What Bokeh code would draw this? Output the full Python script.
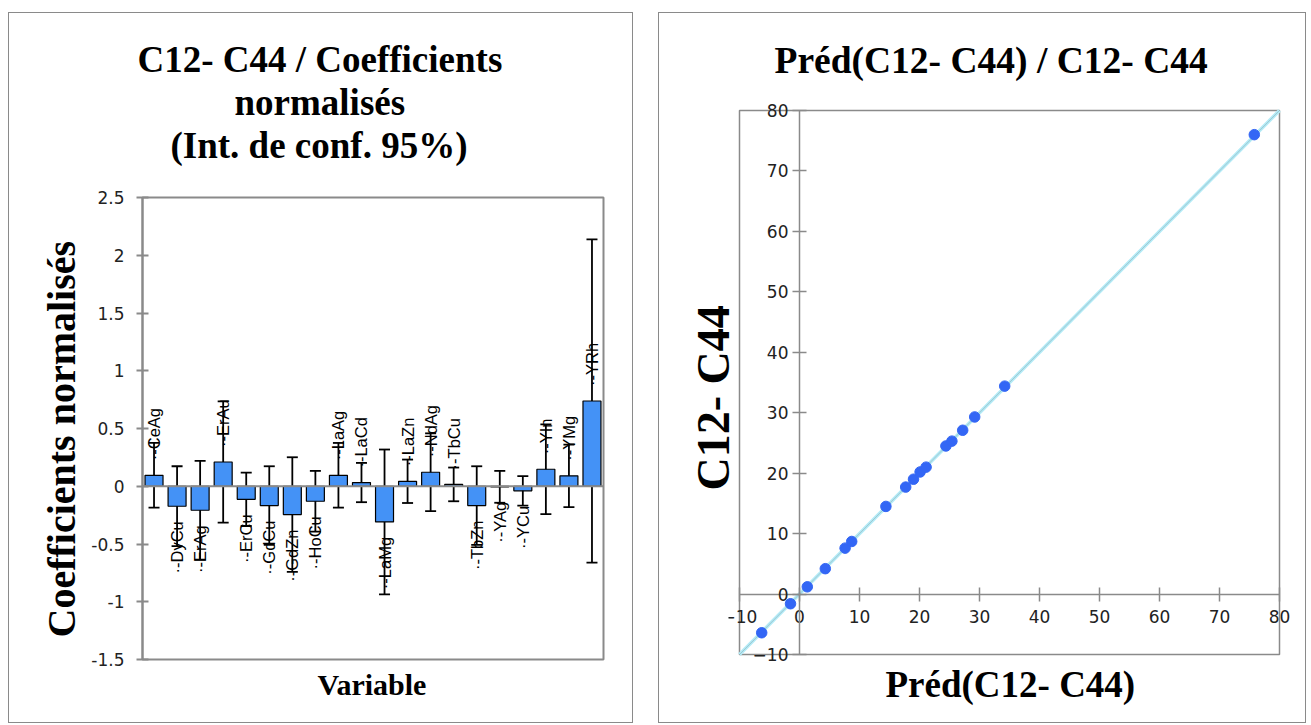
import math
from bokeh.plotting import figure
from bokeh.models import (Range1d, FactorRange, ColumnDataSource, Whisker, TeeHead,
                          Span, Title, FixedTicker, Spacer)
from bokeh.layouts import row, column
from bokeh.embed import file_html
from bokeh.resources import INLINE
from bokeh.core.properties import value

# ---------------- data ----------------
variables = ["CeAg", "DyCu", "ErAg", "ErAu", "ErCu", "GdCu", "GdZn", "HoCu", "LaAg", "LaCd",
             "LaMg", "LaZn", "NdAg", "TbCu", "TbZn", "YAg", "YCu", "YIn", "YMg", "YRh"]
coefficients = [0.095, -0.173, -0.208, 0.210, -0.113, -0.167, -0.245, -0.130, 0.095, 0.032,
                -0.309, 0.043, 0.121, 0.016, -0.167, -0.005, -0.040, 0.147, 0.090, 0.738]
ci_half = [0.280, 0.346, 0.427, 0.525, 0.231, 0.340, 0.496, 0.263, 0.280, 0.170,
           0.627, 0.188, 0.337, 0.146, 0.340, 0.138, 0.127, 0.389, 0.270, 1.400]
left_ticks = [-1.5, -1, -0.5, 0, 0.5, 1, 1.5, 2, 2.5]
left_tick_labels = ["-1.5", "-1", "-0.5", "0", "0.5", "1", "1.5", "2", "2.5"]

pred = [-6.3, -1.5, 1.3, 4.3, 7.6, 8.7, 14.4, 17.7, 19.0, 20.1, 21.1, 24.4, 25.4, 27.2, 29.2, 34.2, 75.8]
obs = [-6.4, -1.6, 1.2, 4.2, 7.6, 8.7, 14.5, 17.7, 19.0, 20.2, 21.0, 24.5, 25.3, 27.1, 29.3, 34.4, 76.0]
right_ticks = [-10, 0, 10, 20, 30, 40, 50, 60, 70, 80]
axis_min, axis_max = -10, 80

GRAY = "#8a8a8a"
SERIF = "Liberation Serif"
TICKFONT = "DejaVu Sans"
BORDER = {"border": "1px solid #8a8a8a"}


def no_frame_align(p):
    if "frame_align" in p.properties():
        p.frame_align = False


# ---------------- left chart ----------------
labels = ["\u00b7-" + v for v in variables]
lower = [c - h for c, h in zip(coefficients, ci_half)]
upper = [c + h for c, h in zip(coefficients, ci_half)]
src = ColumnDataSource(dict(x=variables, y=coefficients, lo=lower, hi=upper, lab=labels))
pos = ColumnDataSource(dict(x=[v for v, c in zip(variables, coefficients) if c >= 0],
                            y=[c for c in coefficients if c >= 0],
                            lab=[l for l, c in zip(labels, coefficients) if c >= 0]))
neg = ColumnDataSource(dict(x=[v for v, c in zip(variables, coefficients) if c < 0],
                            y=[c for c in coefficients if c < 0],
                            lab=[l for l, c in zip(labels, coefficients) if c < 0]))

p1 = figure(width=625, height=711, x_range=FactorRange(*variables, range_padding=0),
            y_range=Range1d(-1.5, 2.5), output_backend="svg", toolbar_location=None,
            x_axis_location=None,
            min_border_left=133, min_border_right=31, min_border_top=184, min_border_bottom=65)
no_frame_align(p1)
p1.styles = BORDER
p1.xgrid.visible = False
p1.ygrid.visible = False
p1.outline_line_color = GRAY
p1.outline_line_width = 2
ya = p1.yaxis[0]
ya.ticker = FixedTicker(ticks=left_ticks)
ya.major_label_overrides = {t: l for t, l in zip(left_ticks, left_tick_labels)}
ya.axis_line_color = GRAY
ya.axis_line_width = 2
ya.major_tick_line_color = GRAY
ya.major_tick_line_width = 2
ya.major_tick_in = 6
ya.major_tick_out = 6
ya.minor_tick_line_color = None
ya.major_label_standoff = 12
ya.major_label_text_font = TICKFONT
ya.major_label_text_font_size = "17px"
ya.major_label_text_color = "#222222"

p1.vbar(x="x", top="y", bottom=0, width=0.78, source=src, fill_color="#4492F6",
        line_color="black", line_width=1.2)
p1.add_layout(Span(location=0, dimension="width", line_color=GRAY, line_width=2))
p1.add_layout(Whisker(source=src, base="x", lower="lo", upper="hi", line_color="black",
                      line_width=1.8,
                      upper_head=TeeHead(size=11, line_color="black", line_width=1.8),
                      lower_head=TeeHead(size=11, line_color="black", line_width=1.8)))
p1.text(x="x", y="y", text="lab", source=pos, angle=math.pi / 2, text_align="left",
        text_baseline="middle", y_offset=-15, text_font=value("Liberation Sans"),
        text_font_size="16.5px", text_color="black")
p1.text(x="x", y="y", text="lab", source=neg, angle=math.pi / 2, text_align="right",
        text_baseline="middle", y_offset=15, text_font=value("Liberation Sans"),
        text_font_size="16.5px", text_color="black")


def title(text, size, offset, standoff, valign):
    return Title(text=text, align="left", offset=offset, standoff=standoff,
                 vertical_align=valign, text_font=SERIF, text_font_style="bold",
                 text_font_size=size, text_color="black")


# stacked from the frame outward
p1.add_layout(Title(text=" ", text_font_size="27px", standoff=0), "above")
p1.add_layout(title("(Int. de conf. 95%)", "37px", 28, 0, "bottom"), "above")
p1.add_layout(title("normalisés", "37px", 92, 0, "bottom"), "above")
p1.add_layout(title("C12- C44 / Coefficients", "37px", -5, 0, "bottom"), "above")
p1.add_layout(title("Coefficients normalisés", "40px", 22, 9, "bottom"), "left")
p1.add_layout(title("Variable", "30px", 175, 16, "top"), "below")

# ---------------- right chart ----------------
x_lo, x_hi = axis_min - 11 / 6, axis_max + 2
y_lo, y_hi = axis_min - 1.32, axis_max + 1.32
p2 = figure(width=648, height=711, x_range=Range1d(x_lo, x_hi),
            y_range=Range1d(y_lo, y_hi), output_backend="svg", toolbar_location=None,
            min_border_left=69, min_border_right=16, min_border_top=89, min_border_bottom=62)
no_frame_align(p2)
p2.styles = BORDER
p2.xgrid.visible = False
p2.ygrid.visible = False
p2.outline_line_color = None
for ax in (p2.xaxis[0], p2.yaxis[0]):
    ax.ticker = FixedTicker(ticks=right_ticks)
    ax.fixed_location = 0
    ax.bounds = (axis_min, axis_max)
    ax.axis_line_color = GRAY
    ax.axis_line_width = 1.5
    ax.major_tick_line_color = GRAY
    ax.major_tick_line_width = 1.5
    ax.major_tick_in = 7
    ax.major_tick_out = 7
    ax.minor_tick_line_color = None
    ax.major_label_text_font = TICKFONT
    ax.major_label_text_font_size = "17px"
    ax.major_label_text_color = "#222222"
p2.yaxis[0].major_label_standoff = 4
p2.xaxis[0].major_label_standoff = 9

# plot-area box
p2.quad(left=[axis_min], right=[axis_max], bottom=[axis_min], top=[axis_max],
        fill_color=None, line_color=GRAY, line_width=1.5)
p2.line(x=[axis_min, axis_max], y=[axis_min, axis_max], line_color="#B2EAF6", line_width=3.5)
p2.line(x=[axis_min, axis_max], y=[axis_min, axis_max], line_color="#777777", line_width=0.6,
        line_alpha=0.5)
p2.scatter(x=pred, y=obs, size=10.5, fill_color="#3366F5", line_color="#3366F5")

p2.add_layout(title("Préd(C12- C44) / C12- C44", "37.5px", 46, 44, "bottom"), "above")
p2.add_layout(title("C12- C44", "46px", 172, -21, "bottom"), "left")
p2.add_layout(title("Préd(C12- C44)", "37px", 157, 2, "top"), "below")

layout = column(Spacer(height=12),
                row(Spacer(width=8), p1, Spacer(width=25), p2))
open("out.html", "w").write(file_html(layout, INLINE))
